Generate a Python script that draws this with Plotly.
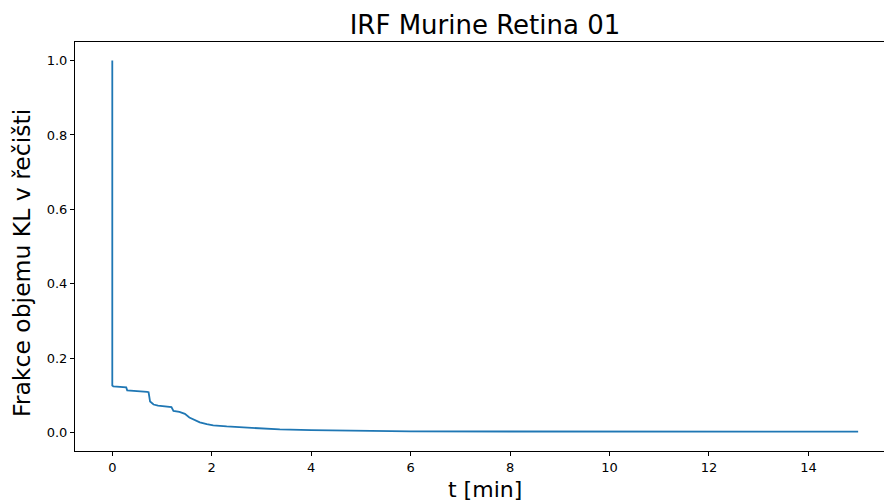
import plotly.graph_objects as go

# time [min] and fraction values
t_min = [0.0, 0.0, 0.02, 0.28, 0.30, 0.61, 0.70, 0.73, 0.76, 0.83, 0.92, 1.19, 1.23, 1.35,
         1.46, 1.55, 1.65, 1.76, 1.9, 2.03, 2.3, 2.7, 3.0, 3.37, 4.0, 5.0, 6.0, 8.0, 10.0, 12.0, 15.0]
fraction = [1.0, 0.126, 0.124, 0.121, 0.113, 0.111, 0.109, 0.108, 0.083, 0.075, 0.072, 0.068, 0.058, 0.055,
            0.050, 0.040, 0.033, 0.027, 0.022, 0.019, 0.016, 0.013, 0.010, 0.008, 0.006, 0.004, 0.003, 0.0025, 0.002, 0.002, 0.002]

x_ticks = [0, 2, 4, 6, 8, 10, 12, 14]
y_ticks = [0.0, 0.2, 0.4, 0.6, 0.8, 1.0]
y_tick_text = ["0.0", "0.2", "0.4", "0.6", "0.8", "1.0"]

fig = go.Figure()
fig.add_trace(go.Scatter(x=t_min, y=fraction, mode="lines",
                         line=dict(color="#1f77b4", width=1.8), showlegend=False))

font = "DejaVu Sans"
fig.update_layout(
    width=884, height=501,
    margin=dict(l=75, r=0, t=42, b=50),
    paper_bgcolor="white", plot_bgcolor="white",
    font=dict(family=font, color="black", size=13),
    title=dict(text="IRF Murine Retina 01", x=(75 + 895) / 2 / 884, xanchor="center",
               y=1 - 25 / 501, yanchor="middle", yref="container",
               font=dict(family=font, size=26, color="black")),
    annotations=[
        dict(text="Frakce objemu KL v řečišti", textangle=-90,
             xref="paper", yref="paper", x=(22 - 75) / 809, y=(451 - 263) / 409,
             xanchor="center", yanchor="middle", showarrow=False,
             font=dict(family=font, size=23.5, color="black")),
        dict(text="t [min]", xref="paper", yref="paper",
             x=(484.5 - 75) / 809, y=(451 - 489) / 409,
             xanchor="center", yanchor="middle", showarrow=False,
             font=dict(family=font, size=22, color="black")),
    ],
)
fig.update_xaxes(range=[-0.75, 15.52], tickvals=x_ticks, ticks="outside", ticklen=4,
                 tickcolor="black", showline=True, linecolor="black", linewidth=1,
                 mirror=True, showgrid=False, zeroline=False,
                 tickfont=dict(family=font, size=13))
fig.update_yaxes(range=[-0.05, 1.05], tickvals=y_ticks, ticktext=y_tick_text, ticks="outside",
                 ticklen=4, tickcolor="black", showline=True, linecolor="black", linewidth=1,
                 mirror=False, showgrid=False, zeroline=False,
                 tickfont=dict(family=font, size=13))

fig.write_html("out.html")
